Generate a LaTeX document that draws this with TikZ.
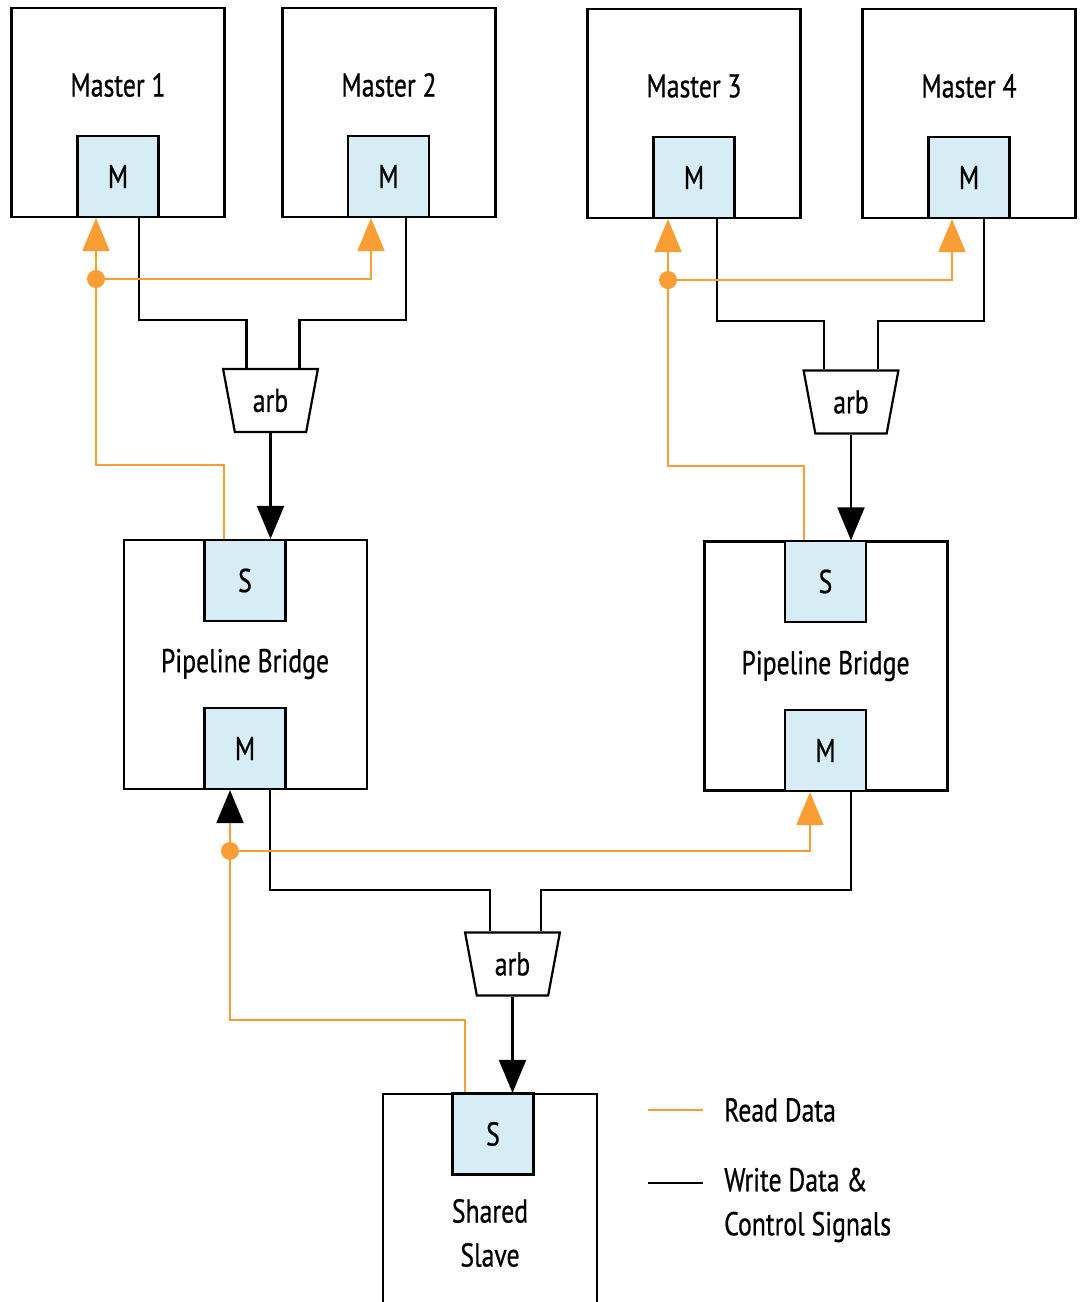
\documentclass[tikz,border=0pt]{standalone}
\usepackage{fontspec}
\setmainfont[FakeStretch=0.78, FakeBold=0.6]{PT Sans}
\usetikzlibrary{arrows.meta, positioning, shapes.geometric}
\definecolor{rdorange}{HTML}{F99D35}
\definecolor{portblue}{HTML}{D6EDF5}

\begin{document}
\begin{tikzpicture}[
  x=1pt, y=-1pt,
  unit/.style={draw, line width=2.2pt, minimum width=213pt, minimum height=209pt, inner sep=0pt},
  port/.style={draw, line width=2.2pt, fill=portblue, minimum width=81pt, minimum height=81pt,
               inner sep=0pt, font=\fontsize{33}{40}\selectfont},
  txt/.style={inner sep=0pt, font=\fontsize{33}{44}\selectfont},
  arb/.style={draw, line width=2.2pt, trapezium, shape border rotate=180, trapezium angle=76,
              minimum width=95pt, minimum height=63pt, trapezium stretches=true, inner sep=0pt,
              font=\fontsize{33}{40}\selectfont},
  wr/.style={line width=2.2pt},
  rd/.style={line width=2.2pt, draw=rdorange},
  tip/.style={-{Triangle[length=33pt, width=27pt]}},
  dot/.style={circle, fill=rdorange, minimum size=18pt, inner sep=0pt}
]
  \useasboundingbox (0,0) rectangle (1081,1302);

  % masters
  \node[unit] (m1) at (118,112.5) {};
  \node[unit] (m2) at (389,112.5) {};
  \node[unit] (m3) at (694,113.5) {};
  \node[unit] (m4) at (969,113.5) {};
  \node[txt] (t1) at (118,85) {Master 1};
  \node[txt] (t2) at (389,85) {Master 2};
  \node[txt] (t3) at (694,86) {Master 3};
  \node[txt] (t4) at (969,86) {Master 4};
  \node[port] (p1) at (118,176.5) {M};
  \node[port] (p2) at (388.5,176.5) {M};
  \node[port] (p3) at (694,177.5) {M};
  \node[port] (p4) at (969,177.5) {M};

  % bridges
  \node[unit, minimum width=243pt, minimum height=249pt] (b1) at (245.5,664.5) {};
  \node[unit, minimum width=243pt, minimum height=249pt] (b2) at (826,666) {};
  \node[txt] (t5) at (245,664) {Pipeline Bridge};
  \node[txt] (t6) at (825.5,666) {Pipeline Bridge};
  \node[port] (s1) at (245,580.5) {S};
  \node[port] (q1) at (245,748.5) {M};
  \node[port] (s2) at (825.5,581.5) {S};
  \node[port] (q2) at (825.5,750.5) {M};

  % shared slave
  \node[unit, minimum width=214pt, minimum height=250pt] (ss) at (490,1219) {};
  \node[port] (s3) at (493,1134) {S};
  \node[txt, align=center] (t7) at (490,1233) {Shared\\Slave};

  % arbiters
  \node[arb] (a1) at (270.5,400.5) {arb};
  \node[arb] (a2) at (851,402) {arb};
  \node[arb] (a3) at (512.5,964) {arb};

  % write data and control
  \draw[wr] ([xshift=21pt]p1.south) -- ++(0,102) -| ([xshift=-24pt]a1.north);
  \draw[wr] ([xshift=17.5pt]p2.south) -- ++(0,102) -| ([xshift=29pt]a1.north);
  \draw[wr] ([xshift=23pt]p3.south) -- ++(0,102) -| ([xshift=-27pt]a2.north);
  \draw[wr] ([xshift=15pt]p4.south) -- ++(0,102) -| ([xshift=27pt]a2.north);
  \draw[wr] ([xshift=25pt]q1.south) -- ++(0,100) -| ([xshift=-22.5pt]a3.north);
  \draw[wr] ([xshift=25.5pt]q2.south) -- ++(0,98) -| ([xshift=28.5pt]a3.north);
  \draw[wr, tip] (a1.south) -- (a1.south |- b1.north);
  \draw[wr, tip] (a2.south) -- (a2.south |- b2.north);
  \draw[wr, tip] (a3.south) -- (a3.south |- ss.north);

  % read data
  \node[dot] (j1) at (96,279) {};
  \node[dot] (j2) at (668,280) {};
  \node[dot] (j3) at (230,851) {};
  \draw[rd, tip] (j1.center) -- (j1.center |- p1.south);
  \draw[rd, tip] (j1.center) -| ([xshift=-17.5pt]p2.south);
  \draw[rd] (j1.center) -- ++(0,186) -| ([xshift=-21pt]s1.north);
  \draw[rd, tip] (j2.center) -- (j2.center |- p3.south);
  \draw[rd, tip] (j2.center) -| ([xshift=-17pt]p4.south);
  \draw[rd] (j2.center) -- ++(0,186) -| ([xshift=-21.5pt]s2.north);
  \draw[rd, -{Triangle[length=33pt, width=27pt, color=black, fill=black]}]
    (j3.center) -- (j3.center |- q1.south);
  \draw[rd, tip] (j3.center) -| ([xshift=-15.5pt]q2.south);
  \draw[rd] (j3.center) -- ++(0,169) -| ([xshift=-28pt]s3.north);

  % legend
  \node[txt, anchor=west] (l1) at (724,1110) {Read Data};
  \node[txt, anchor=west, align=left] (l2) at (724,1205) {Write Data \&\\Control Signals};
  \draw[rd] ([xshift=-76pt]l1.west) -- ([xshift=-21pt]l1.west);
  \draw[wr] ([xshift=-76pt,yshift=22pt]l2.west) -- ([xshift=-21pt,yshift=22pt]l2.west);
\end{tikzpicture}
\end{document}
